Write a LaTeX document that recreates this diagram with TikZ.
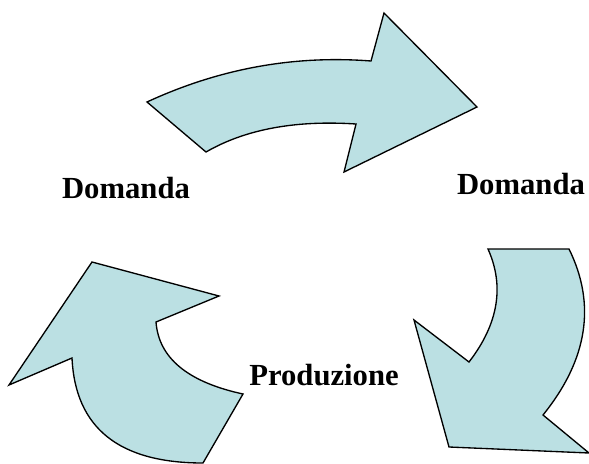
\documentclass[tikz,border=0pt]{standalone}
\usepackage{fontspec}
\setmainfont{Liberation Serif}
\definecolor{arrowfill}{HTML}{BBE0E3}
\begin{document}
\begin{tikzpicture}[x=0.75pt,y=-0.75pt,
  bigarrow/.style={fill=arrowfill,draw=black,line width=1pt,line join=miter},
  lbl/.style={font=\fontsize{23}{27}\selectfont\bfseries,inner sep=0pt,anchor=base}]
\useasboundingbox (0,0) rectangle (589,464);
% top arrow
\draw[bigarrow] (147,102) .. controls (219,68.7) and (293.7,55) .. (371,61) -- (384,13) -- (477,107)
  -- (344,172) -- (356,124) .. controls (295.3,120) and (245.3,129.3) .. (206,152) -- cycle;
% right arrow
\draw[bigarrow] (488,249) -- (569,249) .. controls (596.3,304.3) and (587.7,359.7) .. (543,415) -- (589,453)
  -- (449,447) -- (414,320) -- (469,362) .. controls (498.3,324) and (504.7,286.3) .. (488,249) -- cycle;
% left arrow
\draw[bigarrow] (92,262) -- (219,296) -- (156,322) .. controls (158.7,358) and (187.7,382) .. (243,394)
  -- (203,463) .. controls (119,463) and (75.3,428) .. (72,358) -- (9,385) -- cycle;
\node[lbl] (d1) at (126,198) {Domanda};
\node[lbl] (d2) at (521,194) {Domanda};
\node[lbl] (p) at (324,385) {Produzione};
\end{tikzpicture}
\end{document}
